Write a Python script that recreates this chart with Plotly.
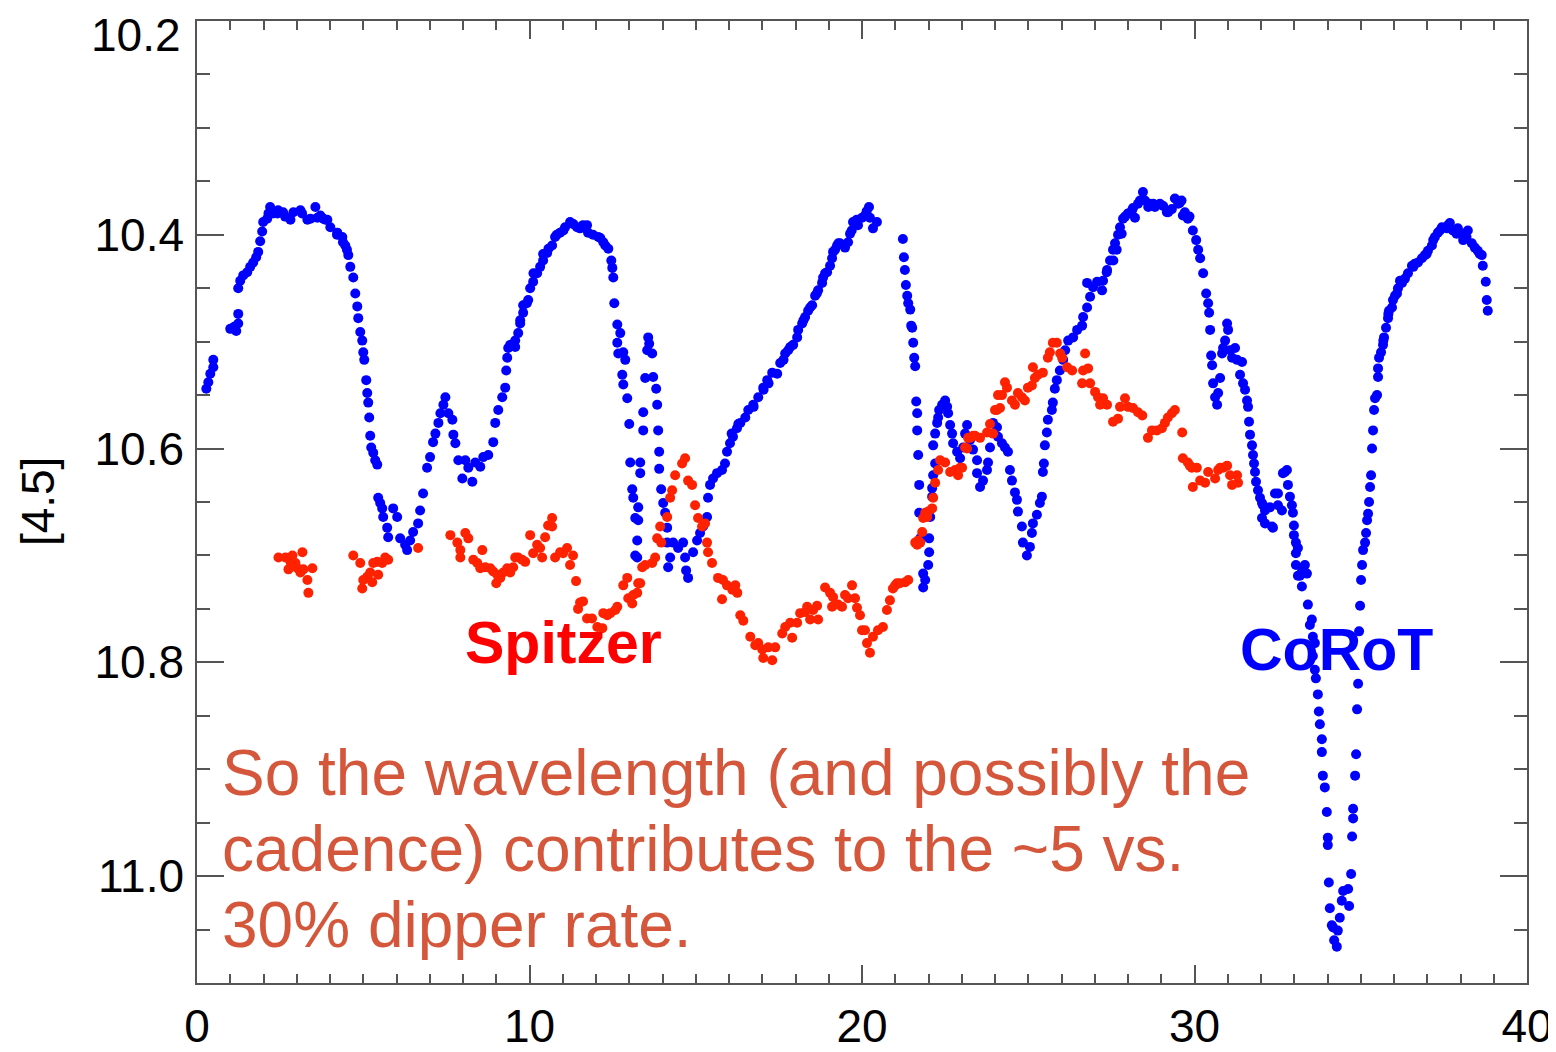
import plotly.graph_objects as go

# ---------------- CoRoT (blue) ----------------
corot_t = [
    0.28,0.34,0.40,0.49,0.49,1.00,1.12,1.18,1.24,1.24,
    1.24,1.30,1.39,1.51,1.60,1.69,1.78,1.84,1.90,1.96,
    1.99,2.11,2.20,2.29,2.44,2.59,2.81,2.90,3.11,3.32,
    3.56,3.62,3.80,3.92,4.01,4.22,4.37,4.46,4.55,4.61,
    4.70,4.76,4.82,4.85,4.91,4.97,5.00,5.03,5.09,5.12,
    5.15,5.18,5.21,5.24,5.30,5.36,5.42,5.45,5.51,5.57,
    5.60,5.72,5.75,5.90,6.02,6.11,6.26,6.32,6.41,6.50,
    6.65,6.71,6.80,6.92,7.01,7.10,7.17,7.26,7.32,7.41,
    7.47,7.56,7.68,7.71,7.77,7.86,7.98,8.07,8.16,8.28,
    8.37,8.52,8.61,8.76,8.91,8.97,9.06,9.18,9.27,9.30,
    9.33,9.36,9.48,9.57,9.66,9.72,9.81,9.81,9.96,10.02,
    10.11,10.23,10.32,10.41,10.53,10.68,10.77,10.92,11.07,11.22,
    11.43,11.61,11.76,11.91,12.13,12.28,12.37,12.46,12.49,12.52,
    12.55,12.64,12.64,12.67,12.73,12.79,12.82,12.82,12.88,12.94,
    13.00,13.03,13.09,13.12,13.18,13.24,13.24,13.27,13.27,13.33,
    13.33,13.18,13.42,13.42,13.48,13.54,13.57,13.60,13.69,13.72,
    13.81,13.84,13.87,13.90,13.90,13.96,14.02,14.08,14.14,14.14,
    14.23,14.17,14.32,14.47,14.62,14.68,14.71,14.77,14.92,15.04,
    15.13,15.22,15.34,15.37,15.43,15.52,15.64,15.79,15.88,15.94,
    16.03,16.12,16.24,16.34,16.49,16.58,16.73,16.88,17.03,17.15,
    17.30,17.45,17.54,17.69,17.78,17.93,18.05,18.08,18.20,18.29,
    18.38,18.50,18.59,18.68,18.80,18.83,18.95,19.04,19.10,19.13,
    19.25,19.34,19.49,19.58,19.64,19.73,19.88,20.00,20.09,20.21,
    20.24,20.33,20.45,21.23,21.26,21.29,21.32,21.36,21.39,21.45,
    21.48,21.51,21.54,21.57,21.60,21.63,21.66,21.66,21.69,21.72,
    21.72,21.75,22.02,22.02,21.99,21.84,21.90,21.84,22.05,22.11,
    22.11,22.14,22.20,22.14,22.20,22.26,22.29,22.32,22.41,22.50,
    22.56,22.59,22.65,22.71,22.74,22.86,22.95,23.04,23.10,23.16,
    23.25,23.34,23.46,23.46,23.55,23.64,23.76,23.79,23.85,23.94,
    24.06,24.09,24.21,24.30,24.39,24.45,24.51,24.60,24.66,24.69,
    24.81,24.84,24.96,25.05,25.11,25.14,25.26,25.35,25.41,25.44,
    25.47,25.50,25.56,25.59,25.71,25.74,25.80,25.86,25.95,26.05,
    26.11,26.20,26.35,26.47,26.62,26.65,26.77,26.77,26.86,26.95,
    27.07,27.22,27.25,27.37,27.46,27.55,27.61,27.70,27.76,27.85,
    28.00,28.12,28.21,28.30,28.45,28.51,28.66,28.81,28.96,29.17,
    29.32,29.41,29.56,29.65,29.71,29.80,29.95,30.05,30.11,30.17,
    30.26,30.35,30.41,30.44,30.47,30.50,30.53,30.56,30.62,30.68,
    30.71,30.77,30.83,30.86,30.92,30.98,31.01,31.07,31.13,31.22,
    31.28,31.37,31.43,31.46,31.52,31.58,31.61,31.64,31.67,31.73,
    31.76,31.79,31.82,31.85,31.91,31.97,32.03,32.06,32.03,32.12,
    32.12,32.27,32.33,32.36,32.42,32.51,32.51,32.63,32.66,32.72,
    32.78,32.81,32.87,32.93,32.96,32.99,32.99,33.05,33.05,33.11,
    33.05,33.11,33.17,33.23,33.23,33.32,33.38,33.41,33.47,33.53,
    33.56,33.62,33.56,33.62,33.65,33.71,33.74,33.77,33.83,33.83,
    33.86,33.92,33.98,34.01,34.01,34.04,34.07,34.13,34.17,34.20,
    34.28,34.31,34.37,34.43,34.47,34.62,34.65,34.71,34.74,34.77,
    34.77,34.83,34.86,34.89,34.92,34.95,34.98,35.01,35.04,35.07,
    35.13,35.16,35.19,35.22,35.25,35.28,35.31,35.34,35.37,35.40,
    35.43,35.49,35.52,35.52,35.55,35.61,35.67,35.70,35.76,35.82,
    35.85,35.94,35.97,36.09,36.12,36.24,36.33,36.42,36.54,36.63,
    36.72,36.84,36.93,37.02,37.14,37.23,37.32,37.44,37.59,37.68,
    37.77,37.92,38.04,38.13,38.22,38.34,38.43,38.52,38.64,38.67,
    38.76,38.79,38.82,
]
corot_mag = [
    10.544,10.538,10.530,10.524,10.517,10.488,10.486,10.490,10.483,10.474,
    10.450,10.443,10.438,10.435,10.430,10.426,10.421,10.416,10.406,10.397,
    10.388,10.385,10.374,10.380,10.377,10.379,10.386,10.379,10.377,10.386,
    10.374,10.384,10.385,10.386,10.393,10.398,10.402,10.410,10.419,10.430,
    10.440,10.455,10.467,10.478,10.491,10.499,10.510,10.517,10.536,10.548,
    10.557,10.571,10.588,10.599,10.604,10.611,10.615,10.646,10.651,10.656,
    10.664,10.674,10.683,10.656,10.664,10.684,10.690,10.695,10.686,10.678,
    10.670,10.658,10.642,10.618,10.608,10.594,10.586,10.576,10.567,10.559,
    10.552,10.567,10.573,10.587,10.595,10.611,10.628,10.611,10.618,10.631,
    10.613,10.617,10.608,10.606,10.594,10.576,10.564,10.552,10.543,10.527,
    10.515,10.506,10.503,10.499,10.492,10.483,10.473,10.466,10.461,10.450,
    10.444,10.436,10.430,10.424,10.417,10.410,10.402,10.398,10.393,10.388,
    10.393,10.391,10.398,10.400,10.403,10.410,10.413,10.424,10.431,10.440,
    10.464,10.484,10.501,10.511,10.492,10.531,10.510,10.540,10.517,10.553,
    10.577,10.613,10.638,10.646,10.665,10.686,10.702,10.655,10.667,10.613,
    10.623,10.700,10.566,10.583,10.534,10.508,10.496,10.502,10.511,10.533,
    10.544,10.559,10.583,10.603,10.619,10.638,10.651,10.660,10.674,10.688,
    10.702,10.711,10.688,10.693,10.688,10.702,10.714,10.721,10.697,10.686,
    10.679,10.673,10.664,10.646,10.634,10.628,10.623,10.620,10.614,10.603,
    10.595,10.589,10.581,10.576,10.571,10.564,10.559,10.552,10.543,10.536,
    10.529,10.530,10.520,10.511,10.508,10.503,10.496,10.489,10.483,10.477,
    10.471,10.466,10.457,10.452,10.445,10.440,10.435,10.429,10.422,10.416,
    10.410,10.408,10.412,10.407,10.399,10.388,10.391,10.384,10.382,10.374,
    10.384,10.394,10.388,10.404,10.421,10.433,10.447,10.457,10.464,10.470,
    10.485,10.487,10.501,10.515,10.523,10.556,10.567,10.583,10.606,10.634,
    10.660,10.684,10.684,10.697,10.709,10.717,10.723,10.730,10.664,10.645,
    10.637,10.625,10.614,10.597,10.586,10.576,10.571,10.564,10.559,10.555,
    10.561,10.567,10.578,10.586,10.595,10.603,10.609,10.599,10.586,10.578,
    10.592,10.601,10.611,10.623,10.636,10.630,10.620,10.613,10.599,10.576,
    10.580,10.589,10.595,10.599,10.603,10.620,10.630,10.641,10.648,10.659,
    10.673,10.688,10.700,10.692,10.679,10.670,10.662,10.651,10.645,10.622,
    10.614,10.597,10.585,10.573,10.564,10.557,10.544,10.536,10.527,10.517,
    10.508,10.499,10.496,10.489,10.485,10.477,10.468,10.445,10.458,10.449,
    10.444,10.452,10.443,10.433,10.424,10.414,10.408,10.400,10.393,10.385,
    10.380,10.377,10.384,10.371,10.360,10.368,10.371,10.374,10.371,10.379,
    10.376,10.366,10.370,10.382,10.379,10.385,10.396,10.405,10.414,10.422,
    10.436,10.455,10.464,10.473,10.489,10.513,10.522,10.539,10.552,10.559,
    10.548,10.534,10.511,10.506,10.499,10.483,10.489,10.508,10.515,10.506,
    10.517,10.531,10.519,10.539,10.545,10.555,10.561,10.575,10.587,10.597,
    10.606,10.614,10.622,10.631,10.639,10.646,10.651,10.653,10.665,10.658,
    10.670,10.655,10.673,10.674,10.642,10.653,10.642,10.658,10.623,10.622,
    10.620,10.634,10.645,10.653,10.660,10.672,10.681,10.688,10.698,10.693,
    10.709,10.719,10.719,10.715,10.729,10.709,10.717,10.746,10.765,10.760,
    10.776,10.782,10.794,10.807,10.815,10.830,10.846,10.858,10.872,10.884,
    10.906,10.917,10.940,10.964,10.971,11.006,11.030,11.046,11.048,11.060,
    11.066,11.051,11.039,11.023,11.014,11.012,11.028,10.998,10.963,10.946,
    10.937,10.906,10.886,10.844,10.820,10.771,10.747,10.723,10.709,10.695,
    10.688,10.679,10.667,10.661,10.650,10.636,10.625,10.600,10.583,10.564,
    10.553,10.550,10.533,10.525,10.515,10.510,10.503,10.496,10.487,10.478,
    10.471,10.468,10.461,10.455,10.450,10.445,10.441,10.436,10.429,10.427,
    10.426,10.422,10.419,10.415,10.410,10.402,10.398,10.393,10.394,10.389,
    10.396,10.394,10.399,10.403,10.396,10.408,10.412,10.415,10.419,10.429,
    10.444,10.461,10.471,
]
# additional CoRoT points read in the densest stretches
corot_t_extra = [
    2.15,2.42,2.65,3.16,3.41,3.71,3.86,4.21,4.39,4.51,
    10.82,11.02,11.32,11.52,11.73,12.07,12.22,10.41,10.57,10.12,
    9.92,9.72,9.57,9.42,16.08,16.28,16.74,17.04,17.19,17.64,
    17.84,18.24,18.44,18.64,18.89,19.19,19.29,19.69,19.84,20.14,
    27.91,28.15,28.36,28.61,28.76,29.06,29.21,29.51,29.61,29.85,
    27.36,27.56,27.66,27.81,36.18,36.58,36.98,37.18,37.38,37.63,
    37.88,38.08,38.18,38.58,35.68,35.83,36.03,
]
corot_mag_extra = [
    10.380,10.380,10.383,10.380,10.385,10.382,10.386,10.400,10.407,10.414,
    10.400,10.396,10.390,10.394,10.391,10.402,10.407,10.418,10.413,10.436,
    10.464,10.480,10.505,10.503,10.586,10.577,10.561,10.545,10.539,10.517,
    10.505,10.480,10.468,10.455,10.436,10.414,10.408,10.396,10.386,10.378,
    10.383,10.375,10.368,10.374,10.371,10.373,10.379,10.371,10.368,10.383,
    10.435,10.424,10.414,10.399,10.443,10.430,10.418,10.405,10.396,10.391,
    10.399,10.405,10.402,10.418,10.499,10.474,10.457,
]

# ---------------- Spitzer (red) ----------------
spitzer_t = [
    2.45,2.66,2.75,2.81,2.87,2.96,3.02,3.11,3.17,3.20,
    3.32,3.35,3.47,4.70,4.91,4.97,5.00,5.12,5.21,5.27,
    5.30,5.42,5.45,5.57,5.66,5.75,6.65,7.62,7.83,7.92,
    7.92,8.07,8.16,8.31,8.43,8.52,8.58,8.67,8.82,8.91,
    9.00,9.03,9.12,9.21,9.33,9.42,9.51,9.57,9.66,9.78,
    9.87,10.02,10.11,10.23,10.32,10.38,10.47,10.56,10.68,10.68,
    10.77,10.92,11.01,11.13,11.22,11.31,11.40,11.52,11.46,11.61,
    11.73,11.88,12.04,12.19,12.22,12.34,12.43,12.58,12.64,12.82,
    12.94,12.97,13.09,13.12,13.24,13.27,13.33,13.39,13.48,13.69,
    13.78,13.84,13.96,13.93,14.14,14.23,14.29,14.38,14.59,14.68,
    14.77,14.89,14.98,15.07,15.19,15.28,15.34,15.37,15.49,15.67,
    15.82,15.94,16.10,16.19,16.25,15.79,16.34,16.43,16.64,16.79,
    16.88,17.00,17.03,17.18,17.30,17.39,17.60,17.69,17.84,17.90,
    18.05,18.14,18.29,18.35,18.44,18.53,18.65,18.68,18.89,19.04,
    19.13,19.10,19.28,19.40,19.49,19.58,19.70,19.79,19.85,19.94,
    20.00,20.09,20.15,20.24,20.33,20.48,20.63,20.75,20.84,20.93,
    21.00,21.05,21.14,21.30,21.39,21.60,21.66,21.69,21.75,21.81,
    21.84,21.90,21.96,21.99,22.11,22.14,22.20,22.29,22.35,22.50,
    22.65,22.80,22.89,22.95,23.01,23.10,23.16,23.19,23.25,23.34,
    23.40,23.55,23.76,23.85,23.94,24.00,24.06,24.09,24.15,24.21,
    24.30,24.36,24.51,24.60,24.69,24.81,24.90,24.99,25.11,25.14,
    25.20,25.29,25.44,25.59,25.65,25.74,25.86,25.96,26.02,26.17,
    26.32,26.62,26.71,26.65,26.80,26.86,27.01,27.10,27.16,27.25,
    27.37,27.55,27.70,27.76,27.91,28.00,28.15,28.30,28.43,28.60,
    28.72,28.87,29.02,29.11,29.20,29.32,29.41,29.63,29.65,29.80,
    29.86,29.92,30.07,29.95,30.17,30.32,30.41,30.62,30.71,30.77,
    30.86,30.98,31.07,31.13,31.28,31.31,
]
spitzer_mag = [
    10.702,10.702,10.713,10.706,10.700,10.707,10.712,10.716,10.697,10.713,
    10.723,10.735,10.712,10.700,10.707,10.731,10.723,10.720,10.716,10.725,
    10.707,10.706,10.718,10.707,10.702,10.704,10.693,10.681,10.688,10.695,
    10.702,10.679,10.684,10.704,10.707,10.712,10.695,10.711,10.712,10.715,
    10.726,10.718,10.721,10.716,10.712,10.716,10.711,10.702,10.702,10.704,
    10.706,10.681,10.698,10.690,10.693,10.702,10.683,10.672,10.665,10.673,
    10.702,10.697,10.698,10.693,10.709,10.700,10.724,10.744,10.750,10.743,
    10.759,10.759,10.767,10.768,10.754,10.756,10.754,10.751,10.748,10.728,
    10.721,10.740,10.745,10.737,10.735,10.726,10.726,10.711,10.709,10.707,
    10.702,10.684,10.688,10.673,10.664,10.646,10.639,10.625,10.614,10.609,
    10.630,10.634,10.653,10.665,10.673,10.670,10.688,10.697,10.707,10.721,
    10.723,10.728,10.732,10.728,10.735,10.741,10.756,10.761,10.776,10.784,
    10.782,10.788,10.796,10.786,10.798,10.786,10.773,10.767,10.763,10.777,
    10.763,10.754,10.753,10.748,10.760,10.751,10.747,10.760,10.730,10.735,
    10.739,10.748,10.746,10.748,10.737,10.740,10.728,10.740,10.749,10.756,
    10.770,10.770,10.782,10.791,10.776,10.770,10.767,10.751,10.742,10.731,
    10.728,10.726,10.726,10.725,10.723,10.688,10.690,10.686,10.688,10.678,
    10.665,10.660,10.664,10.659,10.656,10.646,10.632,10.620,10.611,10.613,
    10.622,10.620,10.625,10.618,10.618,10.599,10.600,10.590,10.590,10.588,
    10.588,10.590,10.585,10.577,10.586,10.564,10.564,10.550,10.562,10.550,
    10.538,10.543,10.555,10.559,10.548,10.552,10.555,10.543,10.541,10.524,
    10.534,10.531,10.529,10.515,10.510,10.501,10.501,10.511,10.515,10.524,
    10.527,10.539,10.511,10.527,10.525,10.539,10.547,10.552,10.559,10.553,
    10.559,10.575,10.572,10.561,10.553,10.561,10.562,10.566,10.569,10.590,
    10.583,10.583,10.581,10.576,10.571,10.567,10.564,10.585,10.609,10.613,
    10.616,10.618,10.618,10.636,10.630,10.632,10.622,10.628,10.620,10.618,
    10.618,10.616,10.625,10.634,10.625,10.632,
]

x_ticks = [0, 10, 20, 30, 40]
y_ticks = [10.2, 10.4, 10.6, 10.8, 11.0]

FONT = "Liberation Sans, Arial, Helvetica, sans-serif"
AXIS_COL = "#555555"
NOTE_COL = "#D4573C"

fig = go.Figure()
fig.add_trace(go.Scatter(x=corot_t + corot_t_extra, y=corot_mag + corot_mag_extra,
                         mode="markers",
                         marker=dict(color="#0000FF", size=10, line=dict(width=0)),
                         showlegend=False, name="CoRoT"))
fig.add_trace(go.Scatter(x=spitzer_t, y=spitzer_mag, mode="markers",
                         marker=dict(color="#FF2200", size=10, line=dict(width=0)),
                         showlegend=False, name="Spitzer"))

# the top y label (10.2) is drawn as an annotation, shifted down as in the original
y_text = ["" if v == y_ticks[0] else f"{v:.1f}" for v in y_ticks]

fig.update_xaxes(range=[0, 40], tickvals=x_ticks, ticktext=[str(v) for v in x_ticks],
                 ticks="inside", ticklen=18, tickwidth=1.5, tickcolor=AXIS_COL,
                 minor=dict(dtick=1, ticks="inside", ticklen=9, tickwidth=1.5, tickcolor=AXIS_COL),
                 showline=True, linecolor=AXIS_COL, linewidth=1.5, mirror="ticks",
                 showgrid=False, zeroline=False, automargin=False,
                 ticklabeloverflow="allow",
                 tickfont=dict(family=FONT, size=46, color="black"),
                 ticklabelstandoff=2)
fig.update_yaxes(range=[11.1, 10.2], tickvals=y_ticks, ticktext=y_text,
                 ticks="inside", ticklen=27, tickwidth=1.5, tickcolor=AXIS_COL,
                 minor=dict(dtick=0.05, tick0=10.2, ticks="inside", ticklen=13, tickwidth=1.5,
                            tickcolor=AXIS_COL),
                 showline=True, linecolor=AXIS_COL, linewidth=1.5, mirror="ticks",
                 showgrid=False, zeroline=False, automargin=False,
                 ticklabeloverflow="allow",
                 tickfont=dict(family=FONT, size=46, color="black"),
                 ticklabelstandoff=2)

annotations = [
    dict(text=f"{y_ticks[0]:.1f}", x=-0.0105, y=0.9854, xref="paper", yref="paper",
         showarrow=False, xanchor="right", yanchor="middle",
         font=dict(family=FONT, size=46, color="black")),
    dict(text="[4.5]", x=-0.1195, y=0.501, xref="paper", yref="paper", textangle=-90,
         showarrow=False, xanchor="center", yanchor="middle",
         font=dict(family=FONT, size=46, color="black")),
    dict(text="Spitzer", x=0.2752, y=0.3534, xref="paper", yref="paper",
         showarrow=False, xanchor="center", yanchor="middle",
         font=dict(family=FONT, size=59, color="#FF0000", weight="bold")),
    dict(text="CoRoT", x=0.857, y=0.3462, xref="paper", yref="paper",
         showarrow=False, xanchor="center", yanchor="middle",
         font=dict(family=FONT, size=59, color="#0000FF", weight="bold")),
]
lines = ["So the wavelength (and possibly the",
         "cadence) contributes to the ~5 vs.",
         "30% dipper rate."]
line_y = [0.2183, 0.1393, 0.0603]
for t, yy in zip(lines, line_y):
    annotations.append(dict(text=t, x=0.0173, y=yy, xref="paper", yref="paper",
                            showarrow=False, xanchor="left", yanchor="middle",
                            font=dict(family=FONT, size=64, color=NOTE_COL)))

# the page body has an 8px margin, so the figure is 8px smaller than the window
# plot area in the window: x 197..1527, y 21..983
fig.update_layout(width=1548, height=1044,
                  margin=dict(l=189, r=29, t=13, b=69, pad=0),
                  paper_bgcolor="white", plot_bgcolor="white",
                  annotations=annotations)

fig.write_html("out.html")
